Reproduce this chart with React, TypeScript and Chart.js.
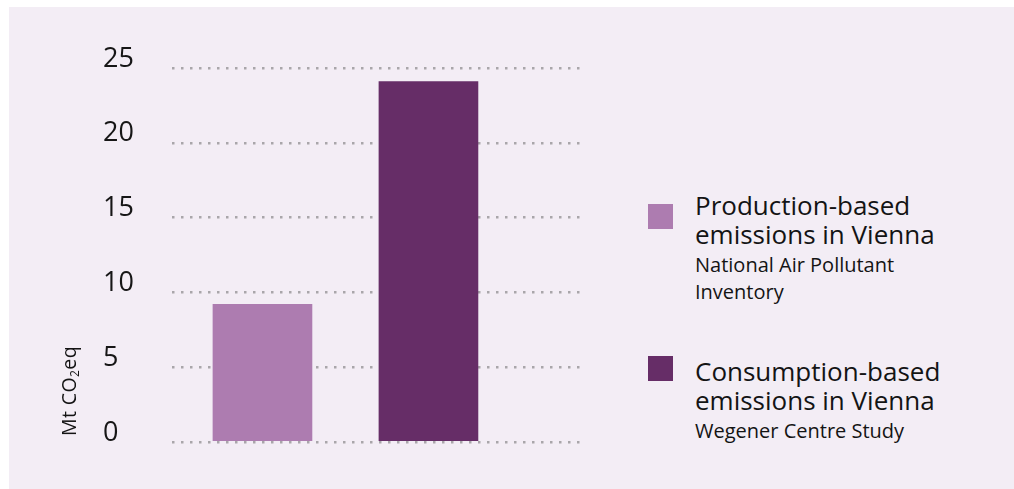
import React, { useEffect, useRef } from "react";
import { Chart, registerables } from "chart.js";

Chart.register(...registerables);

// ---- data ----
const categories = ["Production-based emissions in Vienna", "Consumption-based emissions in Vienna"];
const sources = ["National Air Pollutant Inventory", "Wegener Centre Study"];
const values = [9.2, 24.1];
const barColors = ["#ad7cb0", "#662d67"];
const yTicks = [0, 5, 10, 15, 20, 25];

const FONT = "'Open Sans', Lato, sans-serif";
const PANEL_BG = "#f3edf5";

export default function App() {
  const ref = useRef<HTMLCanvasElement | null>(null);

  useEffect(() => {
    if (!ref.current) return;
    const chart = new Chart(ref.current, {
      type: "bar",
      data: {
        datasets: [
          {
            label: "Emissions",
            data: values.map((v, i) => ({ x: i, y: v })),
            backgroundColor: barColors,
            borderWidth: 0,
            barThickness: 99,
          },
        ],
      },
      options: {
        animation: false,
        responsive: true,
        maintainAspectRatio: false,
        layout: { padding: { left: 94, top: 61, right: 29, bottom: 47 } },
        plugins: { legend: { display: false }, tooltip: { enabled: false } },
        scales: {
          x: {
            type: "linear",
            display: false,
            offset: false,
            min: -0.545,
            max: 1.913,
          },
          y: {
            min: yTicks[0],
            max: yTicks[yTicks.length - 1],
            afterBuildTicks: (scale: any) => {
              scale.ticks = yTicks.map((v) => ({ value: v }));
            },
            afterFit: (scale: any) => {
              scale.width = 69;
            },
            border: { display: false, dash: [2.5, 6.5] },
            grid: {
              color: "#a9a6aa",
              lineWidth: 2.5,
              drawTicks: false,
              tickLength: 0,
            },
            ticks: {
              crossAlign: "far",
              labelOffset: -9,
              padding: 0,
              color: "#161616",
              font: { family: FONT, size: 27 },
            },
          },
        },
      },
    });
    return () => chart.destroy();
  }, []);

  const titleStyle: React.CSSProperties = {
    fontSize: 26,
    lineHeight: "29px",
    color: "#141414",
  };
  const subStyle: React.CSSProperties = {
    fontSize: 20,
    lineHeight: "27px",
    color: "#141414",
    marginTop: 2,
  };

  const legendTops = [184, 350];
  const squareTops = [197, 349];

  return (
    <div
      style={{
        position: "fixed",
        left: 9,
        top: 7,
        width: 1005,
        height: 482,
        background: PANEL_BG,
        fontFamily: FONT,
        overflow: "hidden",
      }}
    >
      <div style={{ position: "absolute", left: 0, top: 0, width: 600, height: 482 }}>
        <canvas ref={ref} />
      </div>
      <div
        style={{
          position: "absolute",
          left: 50,
          top: 429,
          whiteSpace: "nowrap",
          transformOrigin: "left top",
          transform: "rotate(-90deg)",
          fontSize: 19.5,
          letterSpacing: "0.4px",
          lineHeight: "20px",
          color: "#141414",
        }}
      >
        Mt CO<sub style={{ fontSize: 12, verticalAlign: "-3px", lineHeight: 0 }}>2</sub>eq
      </div>
      {categories.map((c, i) => {
        const words = c.split(" ");
        const line1 = words[0];
        const line2 = words.slice(1).join(" ");
        return (
          <React.Fragment key={c}>
            <div
              style={{
                position: "absolute",
                left: 639,
                top: squareTops[i],
                width: 25,
                height: 25,
                background: barColors[i],
              }}
            />
            <div style={{ position: "absolute", left: 686, top: legendTops[i], width: 280 }}>
              <div style={titleStyle}>
                {line1}
                <br />
                {line2}
              </div>
              <div style={{ ...subStyle, width: i === 0 ? 222 : 280 }}>{sources[i]}</div>
            </div>
          </React.Fragment>
        );
      })}
    </div>
  );
}
